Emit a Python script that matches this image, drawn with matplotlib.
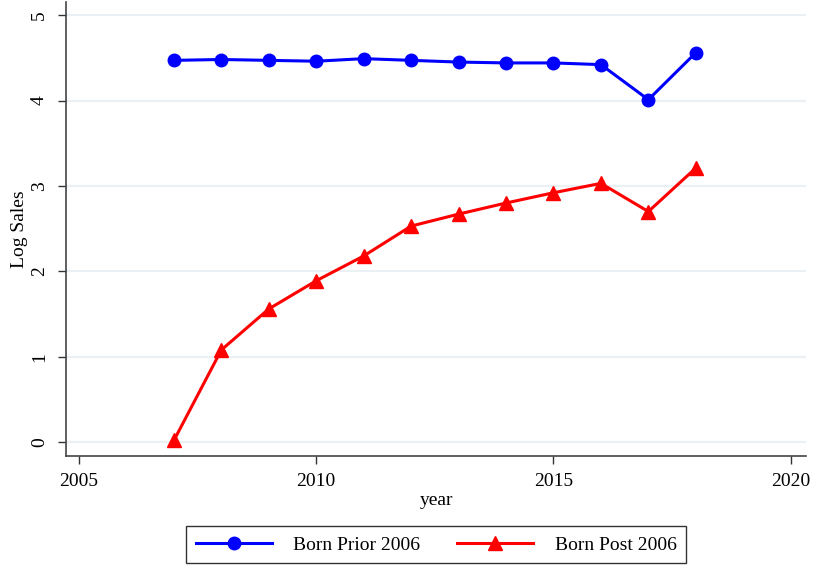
import matplotlib.pyplot as plt

plt.rcParams['font.family'] = ['Liberation Serif', 'DejaVu Serif']

years = [2007, 2008, 2009, 2010, 2011, 2012, 2013, 2014, 2015, 2016, 2017, 2018]
born_prior = [4.47, 4.48, 4.47, 4.46, 4.49, 4.47, 4.45, 4.44, 4.44, 4.42, 4.01, 4.56]
born_post = [0.02, 1.08, 1.56, 1.89, 2.18, 2.53, 2.67, 2.80, 2.92, 3.03, 2.70, 3.21]

x_ticks = [2005, 2010, 2015, 2020]
y_ticks = [0, 1, 2, 3, 4, 5]

fig = plt.figure(figsize=(8.17, 5.67), dpi=100)
ax = fig.add_axes([0.081, 0.196, 0.906, 0.8])

ax.plot(years, born_prior, color='#0000ff', lw=2.2, marker='o', ms=9,
        label='Born Prior 2006')
ax.plot(years, born_post, color='#ff0000', lw=2.2, marker='^', ms=9.5,
        label='Born Post 2006')

ax.set_xlim(2004.73, 2020.33)
ax.set_ylim(-0.16, 5.15)
ax.set_xticks(x_ticks)
ax.set_yticks(y_ticks)
ax.set_yticklabels([str(v) for v in y_ticks], rotation=90, va='center')
ax.tick_params(axis='both', length=6, width=1, labelsize=14, color='#333333')
ax.tick_params(axis='y', pad=7)
ax.tick_params(axis='x', pad=6)

ax.grid(axis='y', color='#eaf0f3', lw=1.5)
ax.set_axisbelow(True)
for side in ['top', 'right']:
    ax.spines[side].set_visible(False)
for side in ['left', 'bottom']:
    ax.spines[side].set_color('#444444')
    ax.spines[side].set_linewidth(1.2)

ax.set_xlabel('year', fontsize=14, labelpad=2)
ax.set_ylabel('Log Sales', fontsize=14, labelpad=2)

leg = ax.legend(loc='upper center', bbox_to_anchor=(0.5, -0.155), ncol=2,
                fontsize=14, frameon=True, fancybox=False, edgecolor='black',
                handlelength=3.9, handletextpad=1.1, columnspacing=1.9,
                borderpad=0.5, borderaxespad=0)
leg.get_frame().set_linewidth(1)

fig.savefig('out.png', dpi=100)
